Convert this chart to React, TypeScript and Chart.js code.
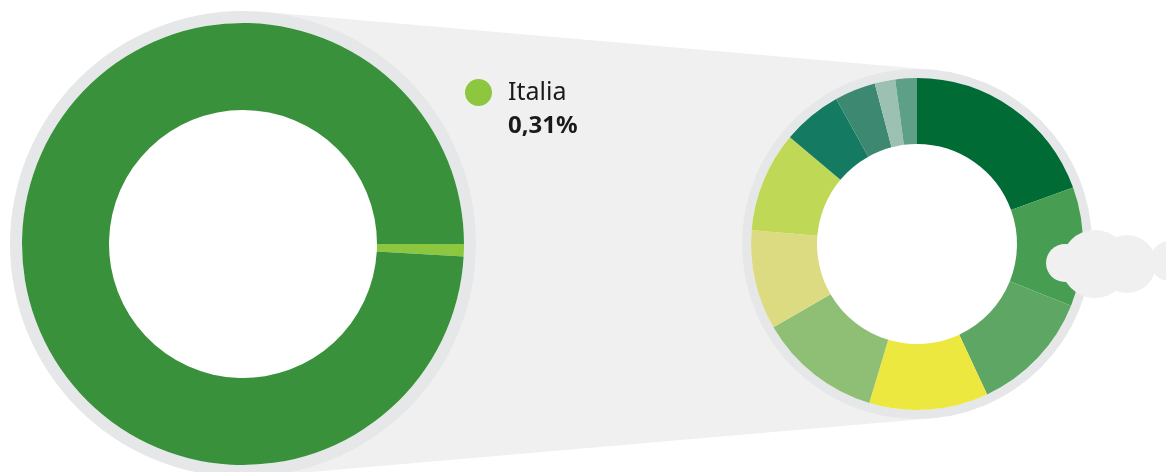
import React, { useEffect, useRef } from "react";
import { Chart, registerables } from "chart.js";

Chart.register(...registerables);

// ---- data ----
const worldLabels = ["Italia", "Resto del mondo"];
const worldValues = [0.9, 99.1]; // slice size as drawn in the picture
const worldColors = ["#8dc63f", "#39923b"];
const italyLabel = "Italia";
const italyShareText = "0,31%";

const detailLabels = ["1", "2", "3", "4", "5", "6", "7", "8", "9", "10", "11"];
const detailValues = [19.5, 11.6, 12.0, 11.6, 12.0, 9.7, 9.8, 5.8, 4.0, 2.0, 2.1];
const detailColors = [
  "#006b35",
  "#479d51",
  "#5da663",
  "#ede83f",
  "#8fbf74",
  "#dddb82",
  "#bfd957",
  "#147a62",
  "#3d8871",
  "#9cc0b1",
  "#5e9f87",
];

// ---- layout ----
const W = 1166;
const H = 472;
const BIG = { cx: 243, cy: 244, r: 221, hole: 134, ring: 12 };
const SMALL = { cx: 917, cy: 244, r: 166, hole: 100, ring: 9 };
const RING_COLOR = "#e6e7e8";
const FUNNEL_COLOR = "#f0f0f0";
const CLOUDS = [
  { x: 1170, y: 261, r: 20 },
  { x: 1127, y: 264, r: 29 },
  { x: 1095, y: 264, r: 34 },
  { x: 1065, y: 263, r: 19 },
];

function circle(ctx: CanvasRenderingContext2D, x: number, y: number, r: number, color: string) {
  ctx.beginPath();
  ctx.arc(x, y, r, 0, Math.PI * 2);
  ctx.fillStyle = color;
  ctx.fill();
}

const backgroundPlugin = {
  id: "funnelBackground",
  beforeDraw(chart: any) {
    const ctx = chart.ctx as CanvasRenderingContext2D;
    ctx.save();
    const R = BIG.r + BIG.ring;
    const r = SMALL.r + SMALL.ring;
    const d = SMALL.cx - BIG.cx;
    const nx = (R - r) / d;
    const ny = Math.sqrt(1 - nx * nx);
    ctx.beginPath();
    ctx.moveTo(BIG.cx + R * nx, BIG.cy - R * ny);
    ctx.lineTo(SMALL.cx + r * nx, SMALL.cy - r * ny);
    ctx.lineTo(SMALL.cx + r * nx, SMALL.cy + r * ny);
    ctx.lineTo(BIG.cx + R * nx, BIG.cy + R * ny);
    ctx.closePath();
    ctx.fillStyle = FUNNEL_COLOR;
    ctx.fill();
    circle(ctx, BIG.cx, BIG.cy, R, RING_COLOR);
    circle(ctx, BIG.cx, BIG.cy, BIG.r, "#ffffff");
    circle(ctx, SMALL.cx, SMALL.cy, r, RING_COLOR);
    circle(ctx, SMALL.cx, SMALL.cy, SMALL.r, "#ffffff");
    ctx.restore();
  },
};

const cloudPlugin = {
  id: "clouds",
  afterDraw(chart: any) {
    const ctx = chart.ctx as CanvasRenderingContext2D;
    ctx.save();
    CLOUDS.forEach((c) => circle(ctx, c.x, c.y, c.r, FUNNEL_COLOR));
    ctx.restore();
  },
};

export default function App() {
  const bigRef = useRef<HTMLCanvasElement | null>(null);
  const smallRef = useRef<HTMLCanvasElement | null>(null);

  useEffect(() => {
    if (!bigRef.current || !smallRef.current) return;
    const big = new Chart(bigRef.current, {
      type: "doughnut",
      data: {
        labels: worldLabels,
        datasets: [{ data: worldValues, backgroundColor: worldColors, borderWidth: 0 }],
      },
      options: {
        responsive: false,
        animation: false,
        events: [],
        rotation: 90,
        radius: BIG.r,
        cutout: (BIG.hole / BIG.r) * 100 + "%",
        layout: {
          padding: { left: BIG.cx - 243, right: W - 2 * BIG.cx, top: BIG.cy - (H - BIG.cy), bottom: 0 },
        },
        plugins: { legend: { display: false }, tooltip: { enabled: false } },
      } as any,
      plugins: [backgroundPlugin],
    });
    const small = new Chart(smallRef.current, {
      type: "doughnut",
      data: {
        labels: detailLabels,
        datasets: [{ data: detailValues, backgroundColor: detailColors, borderWidth: 0 }],
      },
      options: {
        responsive: false,
        animation: false,
        events: [],
        rotation: 0,
        radius: SMALL.r,
        cutout: (SMALL.hole / SMALL.r) * 100 + "%",
        layout: {
          padding: { left: SMALL.cx - (W - SMALL.cx), right: 0, top: SMALL.cy - (H - SMALL.cy), bottom: 0 },
        },
        plugins: { legend: { display: false }, tooltip: { enabled: false } },
      } as any,
      plugins: [cloudPlugin],
    });
    return () => {
      big.destroy();
      small.destroy();
    };
  }, []);

  const abs: React.CSSProperties = { position: "absolute", left: 0, top: 0 };

  return (
    <div
      style={{
        position: "fixed",
        left: 0,
        top: 0,
        width: W,
        height: H,
        overflow: "hidden",
        background: "#ffffff",
        fontFamily: "'Noto Sans', sans-serif",
      }}
    >
      <canvas ref={bigRef} width={W} height={H} style={{ ...abs, width: W, height: H }} />
      <canvas ref={smallRef} width={W} height={H} style={{ ...abs, width: W, height: H }} />
      <div
        style={{
          position: "absolute",
          left: 465,
          top: 79,
          width: 27,
          height: 27,
          borderRadius: "50%",
          background: worldColors[0],
        }}
      />
      <div
        style={{
          position: "absolute",
          left: 508,
          top: 78,
          fontSize: 25,
          lineHeight: "25px",
          color: "#1a1a1a",
          whiteSpace: "nowrap",
        }}
      >
        {italyLabel}
      </div>
      <div
        style={{
          position: "absolute",
          left: 508,
          top: 112,
          fontSize: 24,
          lineHeight: "24px",
          fontWeight: 700,
          color: "#1a1a1a",
          whiteSpace: "nowrap",
        }}
      >
        {italyShareText}
      </div>
    </div>
  );
}
